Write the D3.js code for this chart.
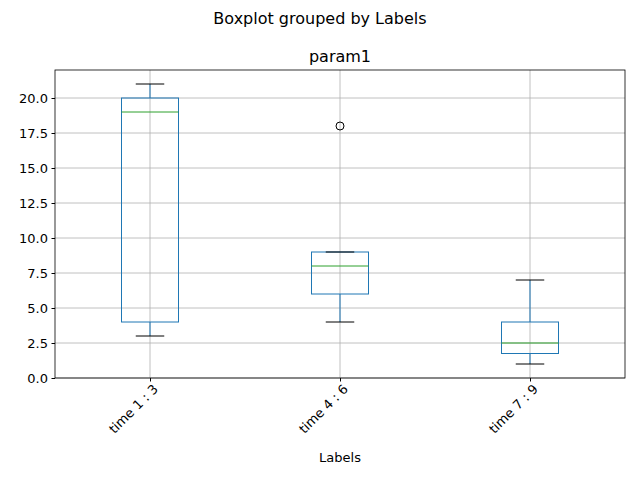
<!DOCTYPE html>
<html><head><meta charset="utf-8">
<script src="https://cdn.jsdelivr.net/npm/d3@7"></script>
<style>body{margin:0;background:#fff}text{font-family:"DejaVu Sans",sans-serif}</style>
</head><body><svg id="c" width="640" height="480"></svg>
<script>
const categories=["time 1 : 3","time 4 : 6","time 7 : 9"];
const whiskerLow=[3,4,1];
const q1=[4,6,1.75];
const medians=[19,8,2.5];
const q3=[20,9,4];
const whiskerHigh=[21,9,7];
const outliers=[[],[18],[]];
const yTicks=[0,2.5,5,7.5,10,12.5,15,17.5,20];

const svg=d3.select("#c");
const L=55,R=625,T=70,B=378;
const x=d3.scaleLinear().domain([0.5,3.5]).range([L,R]);
const y=d3.scaleLinear().domain([0,22]).range([B,T]);
const g=svg.append("g");
g.selectAll(".gy").data(yTicks).enter().append("line").attr("x1",L).attr("x2",R)
 .attr("y1",d=>y(d)).attr("y2",d=>y(d)).attr("stroke","#b0b0b0").attr("stroke-width",0.8);
g.selectAll(".gx").data(categories).enter().append("line").attr("y1",T).attr("y2",B)
 .attr("x1",(d,i)=>x(i+1)).attr("x2",(d,i)=>x(i+1)).attr("stroke","#b0b0b0").attr("stroke-width",0.8);
const bw=0.3, cw=0.15;
categories.forEach((c,i)=>{
  const cx=x(i+1), hw=(x(bw)-x(0))/2, ch=(x(cw)-x(0))/2;
  const col="#1f77b4";
  g.append("line").attr("x1",cx).attr("x2",cx).attr("y1",y(whiskerLow[i])).attr("y2",y(q1[i])).attr("stroke",col);
  g.append("line").attr("x1",cx).attr("x2",cx).attr("y1",y(q3[i])).attr("y2",y(whiskerHigh[i])).attr("stroke",col);
  g.append("rect").attr("x",cx-hw).attr("width",2*hw).attr("y",y(q3[i])).attr("height",y(q1[i])-y(q3[i])).attr("fill","none").attr("stroke",col);
  [whiskerLow[i],whiskerHigh[i]].forEach(v=>g.append("line").attr("x1",cx-ch).attr("x2",cx+ch).attr("y1",y(v)).attr("y2",y(v)).attr("stroke","#000"));
  g.append("line").attr("x1",cx-hw).attr("x2",cx+hw).attr("y1",y(medians[i])).attr("y2",y(medians[i])).attr("stroke","#2ca02c");
  outliers[i].forEach(v=>g.append("circle").attr("cx",cx).attr("cy",y(v)).attr("r",4).attr("fill","none").attr("stroke","#000"));
});
g.append("rect").attr("x",L).attr("y",T).attr("width",R-L).attr("height",B-T).attr("fill","none").attr("stroke","#000").attr("stroke-width",0.8);
const ya=svg.append("g").attr("transform",`translate(${L},0)`).call(d3.axisLeft(y).tickValues(yTicks).tickFormat(d3.format(".1f")).tickSize(3.5).tickPadding(3.5));
ya.select(".domain").remove();
ya.selectAll("text").attr("font-size",13).attr("fill","#000");
const xa=svg.append("g").attr("transform",`translate(0,${B})`).call(d3.axisBottom(x).tickValues([1,2,3]).tickFormat((d)=>categories[d-1]).tickSize(3.5));
xa.select(".domain").remove();
xa.selectAll("text").attr("font-size",13).attr("fill","#000").attr("text-anchor","end")
 .attr("transform","rotate(-45)").attr("dx","-0.2em").attr("dy","0.6em");
svg.append("text").attr("x",340).attr("y",462).attr("text-anchor","middle").attr("font-size",13).text("Labels");
svg.append("text").attr("x",340).attr("y",62).attr("text-anchor","middle").attr("font-size",16).text("param1");
svg.append("text").attr("x",320).attr("y",24).attr("text-anchor","middle").attr("font-size",16).text("Boxplot grouped by Labels");
</script></body></html>
